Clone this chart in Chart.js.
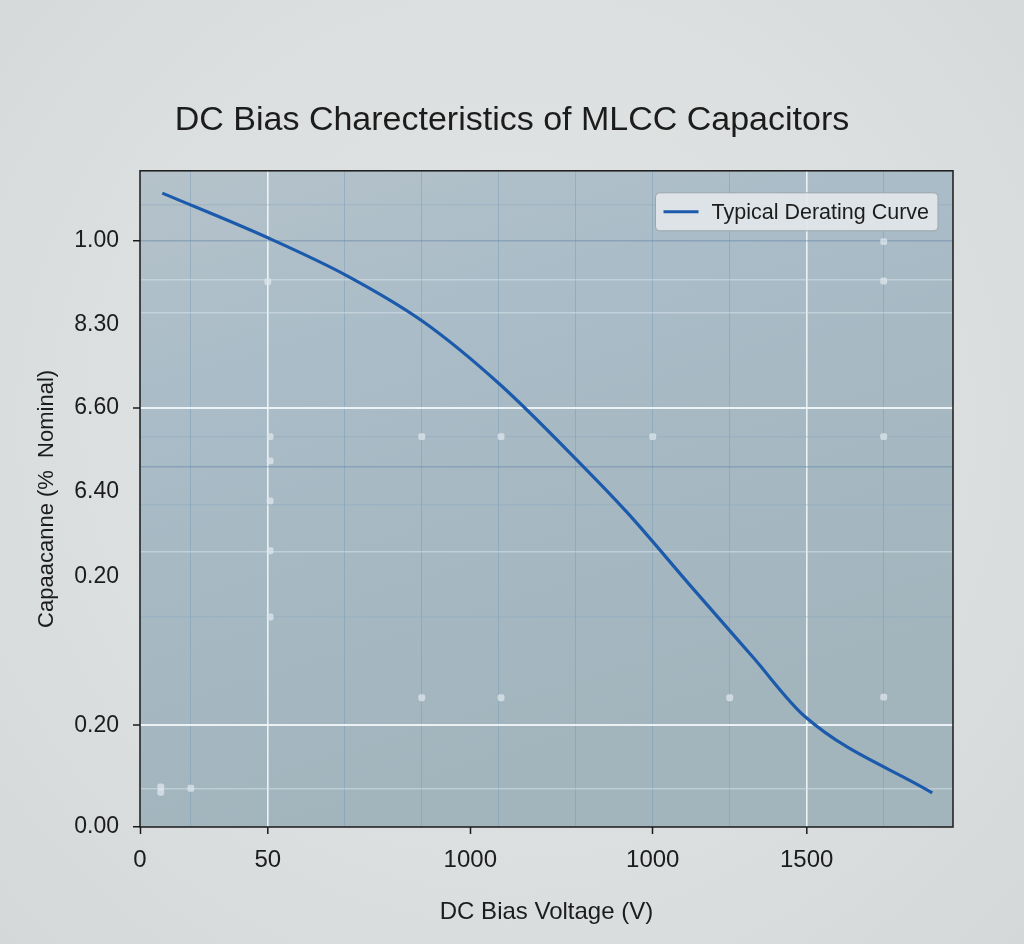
<!DOCTYPE html>
<html>
<head>
<meta charset="utf-8">
<script src="https://cdn.jsdelivr.net/npm/chart.js@4"></script>
<style>
  html, body { margin: 0; padding: 0; }
  body {
    width: 1024px; height: 944px; overflow: hidden;
    background: radial-gradient(ellipse at 50% 45%, #e2e5e4 0%, #dcdfdf 60%, #d4d8d8 100%);
  }
  canvas { display: block; }
</style>
</head>
<body>
<canvas id="biasChart" width="1024" height="944"></canvas>
<script>
// curve (x in plot units, y in % of plot height)
const curveX = [29, 166, 269, 368, 468, 571, 633, 714, 796, 864, 1029];
const curveY = [96.6, 89.8, 84.0, 77.0, 67.4, 55.5, 47.9, 36.9, 25.9, 16.8, 5.2];

// the little pale markers scattered over the plot
const dotX = [166, 169, 169, 169, 169, 169, 366, 469, 666, 966, 966, 966, 366, 469, 766, 966, 27, 27, 66];
const dotY = [83.1, 59.5, 55.8, 49.7, 42.1, 32.0, 59.5, 59.5, 59.5, 59.5, 89.2, 83.2, 19.7, 19.7, 19.7, 19.8, 6.1, 5.3, 5.9];

// tick labels exactly as printed
const xLabelVals = [0, 166, 429, 666, 866];
const xLabelText = ['0', '50', '1000', '1000', '1500'];
const xGrid = [66, 166, 266, 366, 466, 566, 666, 766, 866, 966];
const xMajorGrid = [166, 866];

const yLabelVals = [0, 15.5, 38.1, 51.1, 63.9, 76.5, 89.3];
const yLabelText = ['0.00', '0.20', '0.20', '6.40', '6.60', '8.30', '1.00'];
const yLabelMarked = [true, true, false, false, true, false, true];
const yGrid = [5.9, 15.5, 32.0, 41.9, 49.1, 54.9, 59.5, 63.9, 78.4, 83.4, 89.3, 94.8];
const yMajorGrid = [15.5, 63.9];
const yDarkGrid = [54.9, 89.3];
const yLightGrid = [5.9, 41.9, 78.4, 83.4];

const FONT = "'Liberation Sans', Arial, Helvetica, sans-serif";
const TEXT = '#1c1c1c';
const CURVE = '#1c5aab';

function near(list, v, tol) { return list.some(x => Math.abs(x - v) < tol); }

function mergeTicks(grid, labVals, labText, marked, tol) {
    const out = [];
    labVals.forEach((v, i) => out.push({ v: v, label: labText[i], mark: marked ? marked[i] : true, grid: false }));
    grid.forEach(v => {
        const hit = out.find(t => Math.abs(t.v - v) < tol);
        if (hit) hit.grid = true;
        else out.push({ v: v, label: '', mark: false, grid: true });
    });
    return out.sort((a, b) => a.v - b.v);
}

const xTicks = mergeTicks(xGrid, xLabelVals, xLabelText, null, 2);
const yTicks = mergeTicks(yGrid, yLabelVals, yLabelText, yLabelMarked, 0.3);

function xGridColor(c) {
    const t = xTicks[c.index];
    if (!t || !t.grid) return 'rgba(0,0,0,0)';
    return near(xMajorGrid, t.v, 1) ? 'rgba(243,247,249,0.9)' : 'rgba(118,152,182,0.45)';
}
function yGridColor(c) {
    const t = yTicks[c.index];
    if (!t || !t.grid) return 'rgba(0,0,0,0)';
    if (near(yMajorGrid, t.v, 0.2)) return 'rgba(243,247,249,0.9)';
    if (near(yDarkGrid, t.v, 0.2)) return 'rgba(105,138,170,0.5)';
    if (near(yLightGrid, t.v, 0.2)) return 'rgba(218,230,238,0.5)';
    return 'rgba(140,166,188,0.35)';
}

const plotBackground = {
    id: 'plotBackground',
    beforeDraw(chart) {
        const { ctx, chartArea: a } = chart;
        const g = ctx.createLinearGradient(a.left, a.top, a.left + 200, a.bottom);
        g.addColorStop(0, '#b5c2ca');
        g.addColorStop(0.35, '#a9bcc7');
        g.addColorStop(1, '#a2b5bd');
        ctx.save();
        ctx.fillStyle = g;
        ctx.fillRect(a.left, a.top, a.right - a.left, a.bottom - a.top);
        ctx.restore();
    },
    afterDraw(chart) {
        const { ctx, chartArea: a } = chart;
        ctx.save();
        ctx.strokeStyle = '#1a1a1a';
        ctx.lineWidth = 1.5;
        ctx.strokeRect(a.left, a.top, a.right - a.left, a.bottom - a.top);

        // legend box in the upper right corner
        const ds = chart.data.datasets[0];
        ctx.font = '21.5px ' + FONT;
        const tw = ctx.measureText(ds.label).width;
        const w = 8 + 35 + 13 + tw + 9, h = 38;
        const x = a.right - 15 - w, y = a.top + 22;
        ctx.beginPath();
        ctx.roundRect(x, y, w, h, 4);
        ctx.fillStyle = 'rgba(226,230,233,0.92)';
        ctx.fill();
        ctx.strokeStyle = '#9aa5ab';
        ctx.lineWidth = 1;
        ctx.stroke();
        ctx.beginPath();
        ctx.moveTo(x + 8, y + h / 2);
        ctx.lineTo(x + 43, y + h / 2);
        ctx.strokeStyle = ds.borderColor;
        ctx.lineWidth = 3;
        ctx.stroke();
        ctx.fillStyle = TEXT;
        ctx.textBaseline = 'middle';
        ctx.fillText(ds.label, x + 56, y + h / 2 + 1);
        ctx.restore();
    }
};

new Chart(document.getElementById('biasChart'), {
    type: 'line',
    data: {
        datasets: [{
            label: 'Typical Derating Curve',
            data: curveX.map((x, i) => ({ x: x, y: curveY[i] })),
            borderColor: CURVE,
            borderWidth: 3.2,
            pointRadius: 0,
            cubicInterpolationMode: 'monotone',
            fill: false
        }, {
            type: 'scatter',
            label: 'markers',
            data: dotX.map((x, i) => ({ x: x, y: dotY[i] })),
            pointStyle: 'rectRounded',
            pointRadius: 4,
            backgroundColor: 'rgba(222,230,235,0.75)',
            borderWidth: 0
        }]
    },
    plugins: [plotBackground],
    options: {
        responsive: false,
        animation: false,
        devicePixelRatio: 1,
        layout: { padding: { top: 1, right: 0, bottom: 0, left: 0 } },
        plugins: {
            legend: { display: false },
            tooltip: { enabled: false },
            title: {
                display: true,
                text: 'DC Bias Charecteristics of MLCC Capacitors',
                color: TEXT,
                font: { family: FONT, size: 34, weight: 'normal' },
                padding: { top: 99, bottom: 30 }
            }
        },
        scales: {
            x: {
                type: 'linear',
                min: 0,
                max: 1056,
                afterBuildTicks: s => { s.ticks = xTicks.map(t => ({ value: t.v })); },
                afterFit: s => { s.height = 117; },
                border: { display: false },
                grid: {
                    color: xGridColor,
                    lineWidth: c => (xTicks[c.index] && near(xMajorGrid, xTicks[c.index].v, 1)) ? 1.6 : 1,
                    tickColor: c => (xTicks[c.index] && xTicks[c.index].mark) ? '#1a1a1a' : 'rgba(0,0,0,0)',
                    tickLength: 7,
                    tickWidth: 1.5
                },
                ticks: {
                    autoSkip: false,
                    maxRotation: 0,
                    padding: 12,
                    color: TEXT,
                    font: { family: FONT, size: 24 },
                    callback: (v, i) => xTicks[i] ? xTicks[i].label : ''
                },
                title: {
                    display: true,
                    text: 'DC Bias Voltage (V)',
                    color: TEXT,
                    font: { family: FONT, size: 24 },
                    padding: { top: 0, bottom: 17 }
                }
            },
            y: {
                type: 'linear',
                min: 0,
                max: 100,
                afterBuildTicks: s => { s.ticks = yTicks.map(t => ({ value: t.v })); },
                afterFit: s => { s.width = 140; },
                border: { display: false },
                grid: {
                    color: yGridColor,
                    lineWidth: c => (yTicks[c.index] && near(yMajorGrid, yTicks[c.index].v, 0.2)) ? 2 : 1.5,
                    tickColor: c => (yTicks[c.index] && yTicks[c.index].mark) ? '#1a1a1a' : 'rgba(0,0,0,0)',
                    tickLength: 7,
                    tickWidth: 1.5
                },
                ticks: {
                    autoSkip: false,
                    padding: 14,
                    color: TEXT,
                    font: { family: FONT, size: 23 },
                    callback: (v, i) => yTicks[i] ? yTicks[i].label : ''
                },
                title: {
                    display: true,
                    text: 'Capaacanne (%  Nominal)',
                    color: TEXT,
                    font: { family: FONT, size: 22 },
                    padding: { top: 34, bottom: 0 }
                }
            },
            // empty right-hand axis, only keeps the margin so the title centres on the page
            yRight: {
                type: 'linear',
                position: 'right',
                grid: { display: false },
                border: { display: false },
                ticks: { display: false },
                afterFit: s => { s.width = 71; }
            }
        }
    }
});
</script>
</body>
</html>
